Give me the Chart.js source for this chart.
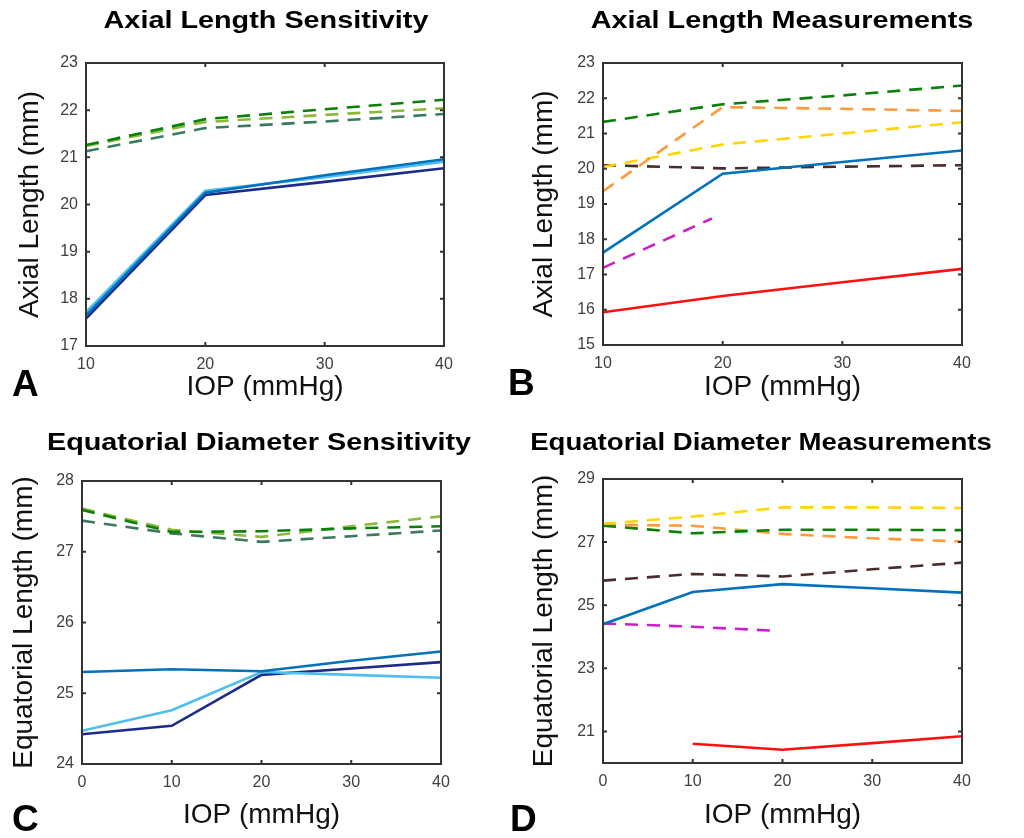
<!DOCTYPE html>
<html>
<head>
<meta charset="utf-8">
<script src="https://cdn.jsdelivr.net/npm/chart.js@4.4.1/dist/chart.umd.min.js"></script>
<style>
  html, body { margin: 0; padding: 0; background: #fff; }
  #fig { position: relative; width: 1024px; height: 838px; overflow: hidden; }
  .panel { position: absolute; width: 512px; height: 419px; }
  .ttl { position: absolute; font: bold 24px "Liberation Sans", Arial, sans-serif; line-height: 1; color: #000;
         white-space: nowrap; transform: translateX(-50%) scaleX(1.2); transform-origin: center; }
  .lab { position: absolute; font: bold 37px "Liberation Sans", Arial, sans-serif; line-height: 1; color: #000; }
</style>
</head>
<body>
<div id="fig">
  <div class="panel" style="left:0;top:0"><canvas id="cA"></canvas></div>
  <div class="panel" style="left:512px;top:0"><canvas id="cB"></canvas></div>
  <div class="panel" style="left:0;top:419px"><canvas id="cC"></canvas></div>
  <div class="panel" style="left:512px;top:419px"><canvas id="cD"></canvas></div>

  <div class="ttl" style="left:266px;top:8px">Axial Length Sensitivity</div>
  <div class="ttl" style="left:782px;top:8px">Axial Length Measurements</div>
  <div class="ttl" style="left:259px;top:430px">Equatorial Diameter Sensitivity</div>
  <div class="ttl" style="left:761px;top:430px;transform:translateX(-50%) scaleX(1.15)">Equatorial Diameter Measurements</div>

  <div class="lab" style="left:12px;top:365px">A</div>
  <div class="lab" style="left:508px;top:364px">B</div>
  <div class="lab" style="left:12px;top:800px">C</div>
  <div class="lab" style="left:510px;top:800px">D</div>
</div>

<script>
// x values (IOP, mmHg)
const iopAB = [10, 20, 30, 40]
const iopCD = [0, 10, 20, 30, 40]

// A: axial length sensitivity
const aLightBlue = [17.72, 20.29, 20.58, 20.91]
const aBlue = [17.65, 20.25, 20.62, 20.96]
const aNavy = [17.58, 20.2, 20.48, 20.77]
const aGreen = [21.26, 21.81, 22.02, 22.22]
const aLime = [21.24, 21.75, 21.9, 22.04]
const aTeal = [21.13, 21.62, 21.76, 21.92]

// B: axial length measurements
const bGreen = [21.33, 21.83, 22.08, 22.36]
const bOrange = [19.36, 21.75, 21.7, 21.64]
const bYellow = [20.05, 20.69, 21.0, 21.32]
const bBrown = [20.1, 20.01, 20.06, 20.1]
const bBlue = [17.62, 19.86, 20.19, 20.52]
const bMagentaX = [10, 19.1]
const bMagenta = [17.19, 18.59]
const bRed = [15.93, 16.39, 16.78, 17.16]

// C: equatorial diameter sensitivity
const cBlue = [25.3, 25.34, 25.31, 25.46, 25.59]
const cLightBlue = [24.47, 24.76, 25.3, 25.26, 25.22]
const cNavy = [24.42, 24.54, 25.26, 25.35, 25.44]
const cGreen = [27.59, 27.28, 27.29, 27.33, 27.36]
const cLime = [27.61, 27.31, 27.21, 27.36, 27.5]
const cTeal = [27.44, 27.26, 27.14, 27.22, 27.3]

// D: equatorial diameter measurements
const dYellow = [27.58, 27.81, 28.1, 28.1, 28.08]
const dOrange = [27.55, 27.52, 27.26, 27.12, 27.02]
const dGreen = [27.52, 27.28, 27.39, 27.39, 27.38]
const dBrown = [25.78, 25.99, 25.91, 26.14, 26.35]
const dBlue = [24.4, 25.42, 25.67, 25.54, 25.4]
const dMagentaX = [0, 10, 19.2]
const dMagenta = [24.42, 24.32, 24.19]
const dRedX = [10, 20, 30, 40]
const dRed = [20.61, 20.42, 20.63, 20.85]

// tick labels
const xTicksAB = [10, 20, 30, 40]
const xTicksCD = [0, 10, 20, 30, 40]
const yTicksA = [17, 18, 19, 20, 21, 22, 23]
const yTicksB = [15, 16, 17, 18, 19, 20, 21, 22, 23]
const yTicksC = [24, 25, 26, 27, 28]
const yTicksD = [21, 23, 25, 27, 29]

const C = {
    lightBlue: "#4DBEEE", blue: "#0072BD", navy: "#1C2A8C",
    green: "#0A7F0A", lime: "#8DB83A", teal: "#3B7A5C",
    orange: "#FF9A3C", yellow: "#FFD400", brown: "#4A2C2C",
    magenta: "#CC1FCC", red: "#FF1010"
}
const DASH = [13, 9]

function pts(xs, ys) { return ys.map((v, i) => ({ x: xs[i], y: v })) }
function line(xs, ys, color, dashed) {
    return {
        data: pts(xs, ys), borderColor: color, borderWidth: 2.6,
        borderDash: dashed ? DASH : [], pointRadius: 0, tension: 0, fill: false
    }
}

// box around the plot with inward tick marks, like the original figure
const frame = {
    id: "frame",
    afterDatasetsDraw(chart) {
        const { ctx, chartArea: a, scales } = chart
        const tl = 4
        ctx.save()
        ctx.strokeStyle = "#333"
        ctx.lineWidth = 2
        ctx.beginPath()
        scales.x.ticks.forEach(t => {
            const px = scales.x.getPixelForValue(t.value)
            ctx.moveTo(px, a.bottom); ctx.lineTo(px, a.bottom - tl)
            ctx.moveTo(px, a.top); ctx.lineTo(px, a.top + tl)
        })
        scales.y.ticks.forEach(t => {
            const py = scales.y.getPixelForValue(t.value)
            ctx.moveTo(a.left, py); ctx.lineTo(a.left + tl, py)
            ctx.moveTo(a.right, py); ctx.lineTo(a.right - tl, py)
        })
        ctx.stroke()
        ctx.strokeRect(a.left, a.top, a.right - a.left, a.bottom - a.top)
        ctx.restore()
    }
}

const tickFont = { family: "'Liberation Sans', Arial, sans-serif", size: 16 }
const axisFont = { family: "'Liberation Sans', Arial, sans-serif", size: 28 }

// area = chart area inside the 512x419 panel: [left, top, right, bottom]
function makeChart(id, datasets, xr, xTicks, yr, yTicks, yLabel, area, yTitlePad, xTitlePad) {
    const [left, top, right, bottom] = area
    return new Chart(document.getElementById(id), {
        type: "line",
        data: { datasets },
        plugins: [frame],
        options: {
            responsive: true, maintainAspectRatio: false, animation: false,
            layout: { padding: { left: 0, top: top, right: 512 - right, bottom: 0 } },
            plugins: { legend: { display: false }, tooltip: { enabled: false } },
            scales: {
                x: {
                    type: "linear", min: xr[0], max: xr[1],
                    afterBuildTicks: s => { s.ticks = xTicks.map(v => ({ value: v })) },
                    afterFit: s => { s.height = 419 - bottom },
                    grid: { display: false, drawTicks: false },
                    border: { display: false },
                    ticks: { padding: 9, color: "#404040", font: tickFont, maxRotation: 0 },
                    title: { display: true, text: "IOP (mmHg)", color: "#111", font: axisFont,
                             padding: { top: 0, bottom: xTitlePad } }
                },
                y: {
                    type: "linear", min: yr[0], max: yr[1],
                    afterBuildTicks: s => { s.ticks = yTicks.map(v => ({ value: v })) },
                    afterFit: s => { s.width = left },
                    grid: { display: false, drawTicks: false },
                    border: { display: false },
                    ticks: { padding: 8, color: "#404040", font: tickFont },
                    title: { display: true, text: yLabel, color: "#111", font: axisFont,
                             padding: { top: yTitlePad, bottom: 0 } }
                }
            }
        }
    })
}

makeChart("cA", [
    line(iopAB, aGreen, C.green, true),
    line(iopAB, aLime, C.lime, true),
    line(iopAB, aTeal, C.teal, true),
    line(iopAB, aBlue, C.blue, false),
    line(iopAB, aLightBlue, C.lightBlue, false),
    line(iopAB, aNavy, C.navy, false)
], [10, 40], xTicksAB, [17, 23], yTicksA, "Axial Length (mm)", [86, 63, 444, 346], 13, 15)

makeChart("cB", [
    line(iopAB, bBlue, C.blue, false),
    line(iopAB, bRed, C.red, false),
    line(iopAB, bGreen, C.green, true),
    line(iopAB, bOrange, C.orange, true),
    line(iopAB, bYellow, C.yellow, true),
    line(iopAB, bBrown, C.brown, true),
    line(bMagentaX, bMagenta, C.magenta, true)
], [10, 40], xTicksAB, [15, 23], yTicksB, "Axial Length (mm)", [91, 63, 450, 345], 15, 15)

makeChart("cC", [
    line(iopCD, cGreen, C.green, true),
    line(iopCD, cLime, C.lime, true),
    line(iopCD, cTeal, C.teal, true),
    line(iopCD, cBlue, C.blue, false),
    line(iopCD, cLightBlue, C.lightBlue, false),
    line(iopCD, cNavy, C.navy, false)
], [0, 40], xTicksCD, [24, 28], yTicksC, "Equatorial Length (mm)", [82, 62, 441, 345], 7, 6)

makeChart("cD", [
    line(iopCD, dBlue, C.blue, false),
    line(dRedX, dRed, C.red, false),
    line(iopCD, dYellow, C.yellow, true),
    line(iopCD, dGreen, C.green, true),
    line(iopCD, dOrange, C.orange, true),
    line(iopCD, dBrown, C.brown, true),
    line(dMagentaX, dMagenta, C.magenta, true)
], [0, 40], xTicksCD, [20, 29], yTicksD, "Equatorial Length (mm)", [91, 60, 450, 344], 15, 6)
</script>
</body>
</html>
